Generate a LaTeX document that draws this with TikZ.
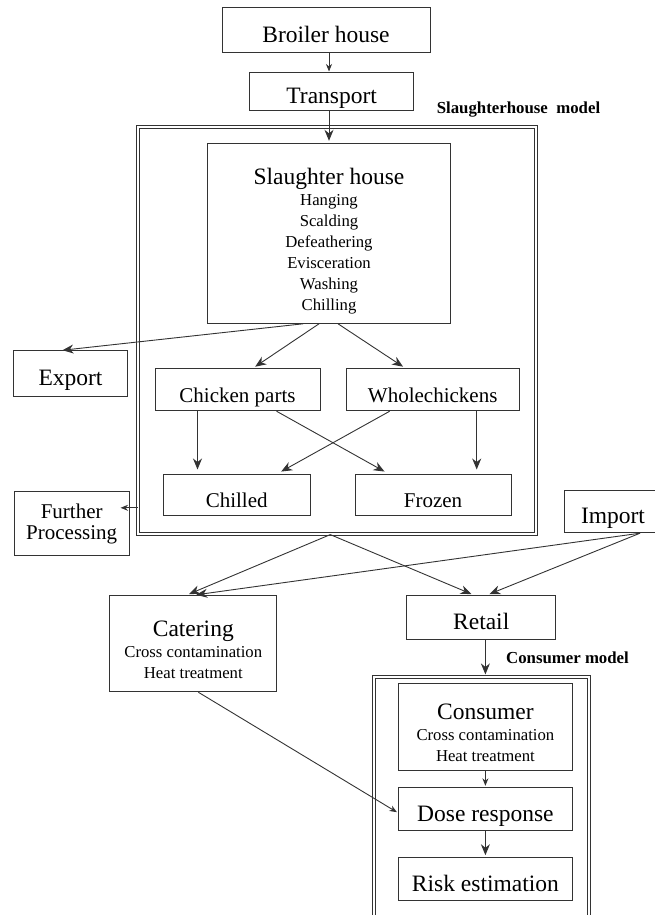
\documentclass[tikz,border=0pt]{standalone}
\usepackage{fontspec}
\setmainfont{Liberation Serif}
\usetikzlibrary{arrows.meta}
\newcommand{\bigTxt}{\fontsize{23.5}{26}\selectfont}
\newcommand{\midTxt}{\fontsize{21}{21}\selectfont}
\newcommand{\smallTxt}{\fontsize{16.7}{21}\selectfont}
\newcommand{\labTxt}{\fontsize{16.8}{19}\selectfont\bfseries}
\tikzstyle{plainBox} = [shape=rectangle, draw=black!80, line width=1pt,
	align=center, inner sep=2pt, fill=white]
\tikzstyle{BigBox} = [plainBox, font=\bigTxt, text height=24pt, text depth=0pt]
\tikzstyle{MidBox} = [plainBox, font=\midTxt, text height=26pt, text depth=0pt]
\tikzstyle{ListBox} = [plainBox, font=\smallTxt]
\tikzstyle{modelFrame} = [shape=rectangle, draw=black!80, line width=1pt,
	double, double distance=2pt]
\tikzstyle{modelLabel} = [font=\labTxt, inner sep=0pt]
\tikzstyle{normalArrow} = [draw=black!80, line width=0.9pt,
	-{Stealth[length=11pt,width=9pt]}, shorten >=2pt]
\tikzstyle{smallArrow} = [draw=black!80, line width=0.9pt,
	-{Stealth[length=7.5pt,width=6pt]}, shorten >=1pt]

\begin{document}
\begin{tikzpicture}[x=1pt, y=-1pt]
  \path [use as bounding box, clip] (0,0) rectangle (655,915);

  \node (SHM) [modelFrame, minimum width=398pt, minimum height=407pt] at (337.3,330.6) {};
  \node (CMF) [modelFrame, minimum width=215.2pt, minimum height=273pt] at (481.6,813.4) {};
  \node (SHLAB) [modelLabel] at (518.5,110) {Slaughterhouse\ \ model};
  \node (CMLAB) [modelLabel] at (567.5,657.3) {Consumer model};

  \node (BROIL) [BigBox, minimum width=208pt, minimum height=45pt] at (326,30.5) {Broiler house};
  \node (TRANS) [BigBox, minimum width=164.5pt, minimum height=38pt] at (331.7,92) {Transport};
  \node (SHB) [ListBox, minimum width=243.4pt, minimum height=180pt] at (329,233.3)
    {{\bigTxt\rule{0pt}{31pt}Slaughter house}\\Hanging\\Scalding\\Defeathering\\Evisceration\\Washing\\Chilling};
  \node (EXPORT) [BigBox, minimum width=114.4pt, minimum height=45.7pt] at (70.5,373.8) {Export};
  \node (CPARTS) [MidBox, minimum width=165pt, minimum height=42.4pt] at (237.5,389.5) {Chicken parts};
  \node (WHOLE) [MidBox, minimum width=173.3pt, minimum height=42.4pt] at (432.7,389.5) {Wholechickens};
  \node (CHILL) [MidBox, minimum width=146.7pt, minimum height=41pt] at (236.7,494.5) {Chilled};
  \node (FROZ) [MidBox, minimum width=156pt, minimum height=41pt] at (433,494.5) {Frozen};
  \node (FURTH) [plainBox, font=\midTxt, minimum width=114.7pt, minimum height=64.3pt] at (71.7,523.8) {Further\\Processing};
  \node (IMPORT) [BigBox, minimum width=98pt, minimum height=42pt] at (613,511.7) {Import};
  \node (CATER) [ListBox, minimum width=166.7pt, minimum height=96pt] at (193.3,643.7)
    {{\bigTxt\rule{0pt}{28pt}Catering}\\Cross contamination\\Heat treatment};
  \node (RETAIL) [BigBox, minimum width=149pt, minimum height=43.6pt] at (481.2,617.5) {Retail};
  \node (CONS) [ListBox, minimum width=174.2pt, minimum height=86.7pt] at (485.4,726.7)
    {{\bigTxt\rule{0pt}{27pt}Consumer}\\Cross contamination\\Heat treatment};
  \node (DOSE) [BigBox, minimum width=174.2pt, minimum height=43.4pt] at (485.4,809) {Dose response};
  \node (RISK) [BigBox, minimum width=174.2pt, minimum height=43pt] at (485.4,879.2) {Risk estimation};

  \draw [smallArrow] (SHB.north |- BROIL.south) -- (SHB.north |- TRANS.north);
  \draw [normalArrow] (SHB.north |- TRANS.south) -- (SHB.north);
  \draw [normalArrow] ([xshift=-26pt]SHB.south) -- ([xshift=-10pt]EXPORT.north);
  \draw [normalArrow] ([xshift=-10pt]SHB.south) -- ([xshift=16pt]CPARTS.north);
  \draw [normalArrow] ([xshift=9pt]SHB.south) -- ([xshift=-28pt]WHOLE.north);
  \draw [normalArrow, shorten >=4pt] ([xshift=-40pt]CPARTS.south) -- ([xshift=-40pt]CPARTS.south |- CHILL.north);
  \draw [normalArrow, shorten >=4pt] ([xshift=39pt]CPARTS.south) -- ([xshift=-45pt]FROZ.north);
  \draw [normalArrow, shorten >=4pt] ([xshift=-43pt]WHOLE.south) -- ([xshift=41pt]CHILL.north);
  \draw [normalArrow, shorten >=4pt] ([xshift=44pt]WHOLE.south) -- ([xshift=44pt]WHOLE.south |- FROZ.north);
  \coordinate (fpIn) at ([xshift=-9pt,yshift=16pt]FURTH.east);
  \draw [smallArrow, shorten >=0pt] (SHM.west |- fpIn) -- (fpIn);
  \draw [normalArrow, shorten >=3pt] ([xshift=-7pt]SHM.south) -- ([xshift=-7pt]CATER.north);
  \draw [normalArrow, shorten >=3pt] ([xshift=-7pt]SHM.south) -- ([xshift=-7pt]RETAIL.north);
  \draw [normalArrow, shorten >=3pt] ([xshift=27pt]IMPORT.south) -- (CATER.north);
  \draw [normalArrow, shorten >=3pt] ([xshift=27pt]IMPORT.south) -- ([xshift=5.5pt]RETAIL.north);
  \draw [normalArrow] (CONS.north |- RETAIL.south) -- (CONS.north |- CMF.north);
  \draw [smallArrow] ([xshift=5pt]CATER.south) -- ([yshift=-3.7pt]DOSE.west);
  \draw [smallArrow] (CONS.south) -- (DOSE.north);
  \draw [normalArrow] (DOSE.south) -- (RISK.north);

\end{tikzpicture}
\end{document}
